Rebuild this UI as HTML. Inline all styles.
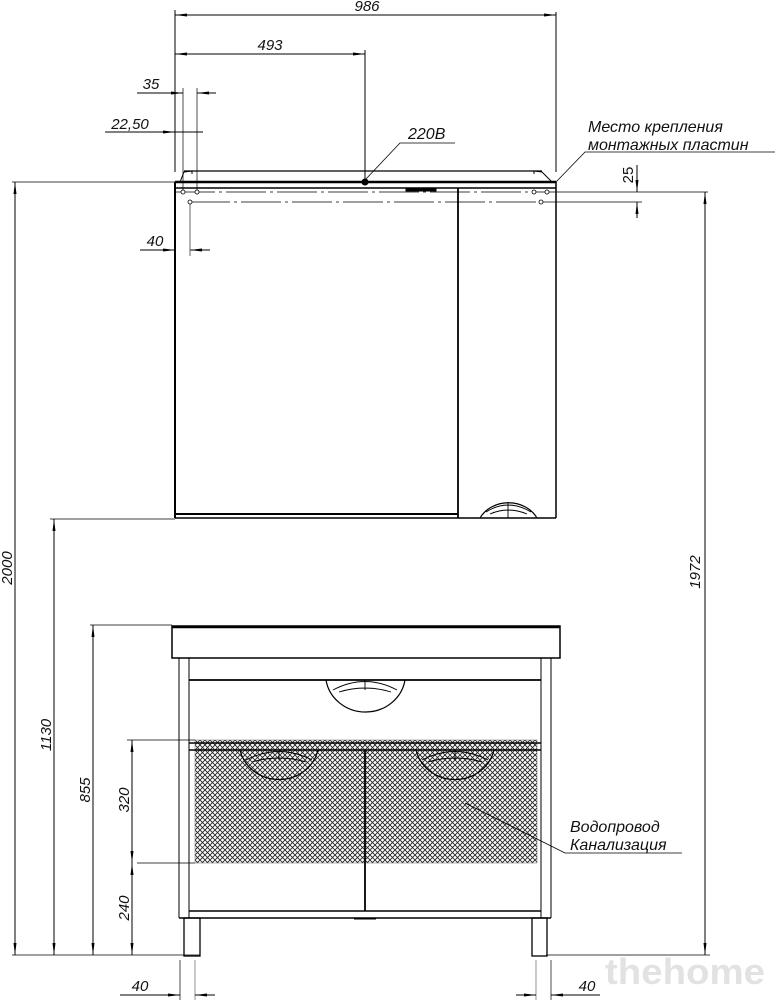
<!DOCTYPE html>
<html><head><meta charset="utf-8"><style>
html,body{margin:0;padding:0;background:#fff;}
svg{display:block;}
text{font-family:"Liberation Sans",sans-serif;font-style:italic;fill:#111;}
</style></head><body>
<svg width="776" height="1000" viewBox="0 0 776 1000" font-size="15" xmlns="http://www.w3.org/2000/svg">
<defs>
<marker id="a" markerWidth="12" markerHeight="6" refX="12" refY="3" orient="auto-start-reverse" markerUnits="userSpaceOnUse">
<path d="M0,1.5 L12,3 L0,4.5 Z" fill="#000"/></marker>
<pattern id="mesh" width="5" height="5" patternUnits="userSpaceOnUse">
<path d="M0,0 L5,5 M5,0 L0,5" stroke="#222" stroke-width="0.9"/></pattern>
</defs>
<g stroke="#000" fill="none" stroke-width="1">
<line x1="175" y1="10" x2="175" y2="172"/>
<line x1="556" y1="12" x2="556" y2="172"/>
<line x1="175" y1="15" x2="556" y2="15" marker-start="url(#a)" marker-end="url(#a)"/>
<line x1="365" y1="50" x2="365" y2="180"/>
<line x1="175" y1="54" x2="365" y2="54" marker-start="url(#a)" marker-end="url(#a)"/>
<line x1="183" y1="88" x2="183" y2="192" stroke-width="0.7"/>
<line x1="197" y1="88" x2="197" y2="192" stroke-width="0.7"/>
<line x1="137" y1="93" x2="175" y2="93"/>
<line x1="160" y1="93" x2="183" y2="93" marker-end="url(#a)"/>
<line x1="216" y1="93" x2="197" y2="93" marker-end="url(#a)"/>
<line x1="105" y1="132" x2="203" y2="132"/>
<line x1="160" y1="132" x2="175" y2="132" marker-end="url(#a)"/>
<line x1="190" y1="132" x2="197" y2="132"/>
<line x1="140" y1="250" x2="175" y2="250"/>
<line x1="160" y1="250" x2="175" y2="250" marker-end="url(#a)"/>
<line x1="210" y1="250" x2="190" y2="250" marker-end="url(#a)"/>
<line x1="190" y1="202" x2="190" y2="256" stroke="#666"/>
<polyline points="365,180 400,143 455,143" stroke-width="0.8"/>
<circle cx="365" cy="182" r="3" fill="#000"/>
<polyline points="556,182 585,152 775,152" stroke-width="0.8"/>
<path d="M180,182 L184,172 L192,171 L192,174 M534,174 L534,171 L542,172 L552,182" />
<line x1="184" y1="171" x2="542" y2="171" stroke-width="1.2"/>
<line x1="175" y1="182" x2="556" y2="182" stroke-width="2.5"/>
<line x1="175" y1="188" x2="556" y2="188" stroke-width="1.5"/>
<rect x="406" y="188" width="30" height="3" fill="#000"/>
<line x1="175" y1="182" x2="175" y2="518" stroke-width="2"/>
<line x1="556" y1="182" x2="556" y2="518" stroke-width="1.5"/>
<line x1="458" y1="188" x2="458" y2="518" stroke-width="1.8"/>
<line x1="175" y1="514" x2="458" y2="514" stroke-width="2"/>
<line x1="175" y1="518" x2="556" y2="518" stroke-width="1.5"/>
<path d="M480,518 A32,28 0 0 1 537,518" stroke-width="1.2"/>
<path d="M486,512 Q508,498 531,512 M490,514 Q508,506 527,514 M508,502 L508,518" stroke-width="0.9"/>
<line x1="175" y1="192" x2="556" y2="192" stroke-dasharray="40,4,3,4" stroke-width="0.8"/>
<line x1="190" y1="202" x2="540" y2="202" stroke-dasharray="40,4,3,4" stroke-width="0.8"/>
<line x1="556" y1="192" x2="708" y2="192" stroke-width="0.8"/>
<line x1="540" y1="202" x2="642" y2="202" stroke-width="0.8"/>
<g fill="#fff" stroke-width="0.8"><circle cx="183" cy="192" r="2"/><circle cx="197" cy="192" r="2"/><circle cx="190" cy="202" r="2"/><circle cx="534" cy="192" r="2"/><circle cx="547" cy="192" r="2"/><circle cx="541" cy="202" r="2"/></g>
<line x1="637" y1="165" x2="637" y2="192" marker-end="url(#a)"/>
<line x1="637" y1="218" x2="637" y2="202" marker-end="url(#a)"/>
<line x1="12" y1="182" x2="175" y2="182" stroke-width="0.8"/>
<line x1="15" y1="182" x2="15" y2="955" marker-start="url(#a)" marker-end="url(#a)"/>
<line x1="50" y1="519" x2="175" y2="519" stroke-width="0.8"/>
<line x1="54" y1="519" x2="54" y2="955" marker-start="url(#a)" marker-end="url(#a)"/>
<line x1="90" y1="625" x2="172" y2="625" stroke-width="0.8"/>
<line x1="93" y1="625" x2="93" y2="955" marker-start="url(#a)" marker-end="url(#a)"/>
<line x1="127" y1="740" x2="195" y2="740" stroke-width="0.8"/>
<line x1="137" y1="863" x2="195" y2="863" stroke-width="0.8"/>
<line x1="132" y1="740" x2="132" y2="863" marker-start="url(#a)" marker-end="url(#a)"/>
<line x1="132" y1="863" x2="132" y2="955" marker-start="url(#a)" marker-end="url(#a)"/>
<line x1="12" y1="955" x2="200" y2="955" stroke-width="0.8"/>
<line x1="546" y1="955" x2="710" y2="955" stroke-width="0.8"/>
<line x1="705" y1="192" x2="705" y2="955" marker-start="url(#a)" marker-end="url(#a)"/>
<rect x="172" y="626" width="388" height="32" stroke-width="1.5"/>
<line x1="172" y1="627" x2="560" y2="627" stroke-width="2.5"/>
<line x1="179" y1="658" x2="179" y2="918"/>
<line x1="189" y1="658" x2="189" y2="918"/>
<line x1="541" y1="658" x2="541" y2="918"/>
<line x1="551" y1="658" x2="551" y2="918"/>
<line x1="189" y1="680" x2="541" y2="680" stroke-width="1.8"/>
<rect x="195" y="740" width="342" height="123" fill="url(#mesh)" stroke="#666" stroke-width="0.5"/>
<line x1="189" y1="743" x2="541" y2="743" stroke-width="1.5"/>
<line x1="189" y1="750" x2="541" y2="750" stroke-width="1.5"/>
<line x1="365" y1="750" x2="365" y2="911" stroke-width="1.8"/>
<line x1="189" y1="911" x2="541" y2="911" stroke-width="1.5"/>
<line x1="179" y1="918" x2="551" y2="918" stroke-width="1.5"/>
<line x1="354" y1="919" x2="376" y2="919" stroke-width="1"/>
<path d="M326,680 A40,38 0 0 0 405,680" stroke-width="1.2"/>
<path d="M333,690 Q365,673 397,690 M339,692 Q365,684 391,692 M365,680 L365,690" stroke-width="0.9"/>
<path d="M240,750 A40,38 0 0 0 318,750" stroke-width="1.2"/>
<path d="M246,760 Q279,743 312,760 M252,762 Q279,754 306,762 M279,750 L279,760" stroke-width="0.9"/>
<path d="M416,750 A40,38 0 0 0 494,750" stroke-width="1.2"/>
<path d="M422,760 Q455,743 488,760 M428,762 Q455,754 482,762 M455,750 L455,760" stroke-width="0.9"/>
<rect x="184" y="918" width="16" height="38" stroke-width="1.3"/>
<rect x="532" y="918" width="15" height="38" stroke-width="1.3"/>
<polyline points="465,803 565,853 682,853" stroke-width="0.8"/>
<line x1="180" y1="960" x2="180" y2="1000" stroke-width="0.7"/>
<line x1="195" y1="960" x2="195" y2="1000" stroke="#666" stroke-width="0.7"/>
<line x1="120" y1="995" x2="180" y2="995"/>
<line x1="160" y1="995" x2="180" y2="995" marker-end="url(#a)"/>
<line x1="215" y1="995" x2="195" y2="995" marker-end="url(#a)"/>
<line x1="536" y1="960" x2="536" y2="1000" stroke="#666" stroke-width="0.7"/>
<line x1="551" y1="960" x2="551" y2="1000" stroke-width="0.7"/>
<line x1="516" y1="995" x2="536" y2="995" marker-end="url(#a)"/>
<line x1="600" y1="995" x2="551" y2="995"/>
<line x1="570" y1="995" x2="551" y2="995" marker-end="url(#a)"/>
</g>
<text x="367" y="11" text-anchor="middle" font-size="15">986</text>
<text x="270" y="50" text-anchor="middle" font-size="15">493</text>
<text x="151" y="89" text-anchor="middle" font-size="15">35</text>
<text x="130" y="129" text-anchor="middle" font-size="15">22,50</text>
<text x="155" y="246" text-anchor="middle" font-size="15">40</text>
<text x="408" y="139" font-size="16">220В</text>
<text x="588" y="132" font-size="16">Место крепления</text>
<text x="588" y="150" font-size="16">монтажных пластин</text>
<text transform="translate(633,175) rotate(-90)" text-anchor="middle" font-size="15" style="font-style:normal">25</text>
<text transform="translate(12,568) rotate(-90)" text-anchor="middle" font-size="15">2000</text>
<text transform="translate(51,735) rotate(-90)" text-anchor="middle" font-size="15">1130</text>
<text transform="translate(90,790) rotate(-90)" text-anchor="middle" font-size="15">855</text>
<text transform="translate(129,800) rotate(-90)" text-anchor="middle" font-size="15">320</text>
<text transform="translate(129,908) rotate(-90)" text-anchor="middle" font-size="15">240</text>
<text transform="translate(700,572) rotate(-90)" text-anchor="middle" font-size="15">1972</text>
<text x="570" y="832" font-size="16">Водопровод</text>
<text x="570" y="850" font-size="16">Канализация</text>
<text x="140" y="991" text-anchor="middle" font-size="15">40</text>
<text x="587" y="991" text-anchor="middle" font-size="15">40</text>
<text x="605" y="984" font-size="36" textLength="160" lengthAdjust="spacingAndGlyphs" style="font-family:'Liberation Sans',sans-serif;font-style:normal;font-weight:bold;fill:#e2e2e2">thehome</text>
</svg>
</body></html>
